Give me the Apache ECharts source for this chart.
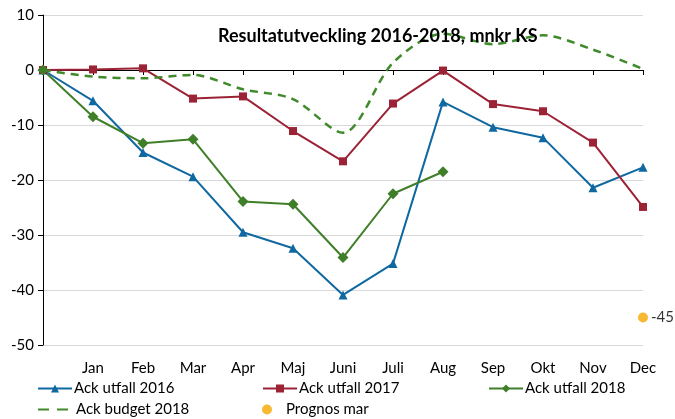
<!DOCTYPE html>
<html>
<head>
<meta charset="utf-8">
<script src="https://cdn.jsdelivr.net/npm/echarts@6/dist/echarts.min.js"></script>
<style>
  html, body { margin: 0; padding: 0; background: #fff; }
  #chart { width: 675px; height: 419px; }
</style>
</head>
<body>
<div id="chart"></div>
<script>
// categories: first point is the start (0) before Jan
const months = ['', 'Jan', 'Feb', 'Mar', 'Apr', 'Maj', 'Juni', 'Juli', 'Aug', 'Sep', 'Okt', 'Nov', 'Dec']
const utfall2016 = [0, -5.6, -15.0, -19.4, -29.5, -32.4, -40.9, -35.2, -5.8, -10.4, -12.3, -21.4, -17.7]
const utfall2017 = [0, 0.1, 0.3, -5.2, -4.8, -11.1, -16.6, -6.1, -0.1, -6.2, -7.5, -13.2, -24.9]
const utfall2018 = [0, -8.5, -13.3, -12.6, -23.9, -24.4, -34.1, -22.5, -18.5]
const budget2018 = [0, -1.2, -1.5, -0.9, -3.5, -5.3, -11.4, 1.3, 6.6, 4.7, 6.3, 3.7, 0.2]
const prognosMar = ['-', '-', '-', '-', '-', '-', '-', '-', '-', '-', '-', '-', -45]

const FONT = 'Lato'
const TXT = '#000'

// one legend per entry so they sit like the original two-row layout
function legendAt(name, left, top, extra) {
  return Object.assign({
    data: [name], left: left, top: top, itemWidth: 34, itemHeight: 10, itemGap: 2,
    textStyle: { fontFamily: FONT, fontSize: 15, color: TXT, padding: [0, 0, 0, -3] },
    padding: 0
  }, extra || {})
}

const chart = echarts.init(document.getElementById('chart'))
chart.setOption({
  animation: false,
  title: {
    text: 'Resultatutveckling 2016-2018, mnkr KS',
    left: 213, top: 22,
    textStyle: { fontFamily: FONT, fontSize: 18, fontWeight: 'bold', color: TXT }
  },
  grid: { left: 43, right: 32, top: 15, bottom: 74 },
  legend: [
    legendAt('Ack utfall 2016', 37, 381),
    legendAt('Ack utfall 2017', 262, 381),
    legendAt('Ack utfall 2018', 488, 381),
    legendAt('Ack budget 2018', 37, 402, {
      itemWidth: 30,
      itemStyle: { opacity: 0 },
      lineStyle: { type: [11, 8] },
      textStyle: { fontFamily: FONT, fontSize: 15, color: TXT, padding: [0, 0, 0, 3] }
    }),
    legendAt('Prognos mar', 262, 402)
  ],
  xAxis: [
    {
      type: 'category', data: months, boundaryGap: false,
      axisLine: { onZero: true, lineStyle: { color: '#000', width: 1 } },
      axisTick: { show: true, length: 5, lineStyle: { color: '#000' } },
      axisLabel: { show: false }
    },
    {
      type: 'category', data: months, boundaryGap: false, position: 'bottom',
      axisLine: { show: false, onZero: false },
      axisTick: { show: false },
      axisLabel: { interval: 0, margin: 16, fontFamily: FONT, fontSize: 15, color: TXT }
    }
  ],
  yAxis: {
    type: 'value', min: -50, max: 10, interval: 10,
    axisLine: { show: true, lineStyle: { color: '#000' } },
    axisTick: { show: true, length: 5, lineStyle: { color: '#000' } },
    axisLabel: { margin: 9, fontFamily: FONT, fontSize: 15, color: TXT },
    splitLine: { lineStyle: { color: '#d9d9d9' } }
  },
  series: [
    {
      name: 'Ack utfall 2016', type: 'line', data: utfall2016,
      symbol: 'triangle', symbolSize: 9,
      lineStyle: { color: '#0f68a0', width: 2 }, itemStyle: { color: '#0f68a0' }
    },
    {
      name: 'Ack utfall 2017', type: 'line', data: utfall2017,
      symbol: 'rect', symbolSize: 8,
      lineStyle: { color: '#9b2335', width: 2 }, itemStyle: { color: '#9b2335' }
    },
    {
      name: 'Ack utfall 2018', type: 'line', data: utfall2018,
      symbol: 'diamond', symbolSize: 11,
      lineStyle: { color: '#3f7f2a', width: 2 }, itemStyle: { color: '#3f7f2a' }
    },
    {
      name: 'Ack budget 2018', type: 'line', data: budget2018,
      symbol: 'none', smooth: 0.3,
      lineStyle: { color: '#3f8a2a', width: 2.5, type: [8, 6] }, itemStyle: { color: '#3f8a2a' }
    },
    {
      name: 'Prognos mar', type: 'scatter', data: prognosMar,
      symbol: 'circle', symbolSize: 10, itemStyle: { color: '#f5a800' },
      label: { show: true, position: 'right', distance: 3, fontFamily: FONT, fontSize: 15, color: TXT }
    }
  ]
})
</script>
</body>
</html>
